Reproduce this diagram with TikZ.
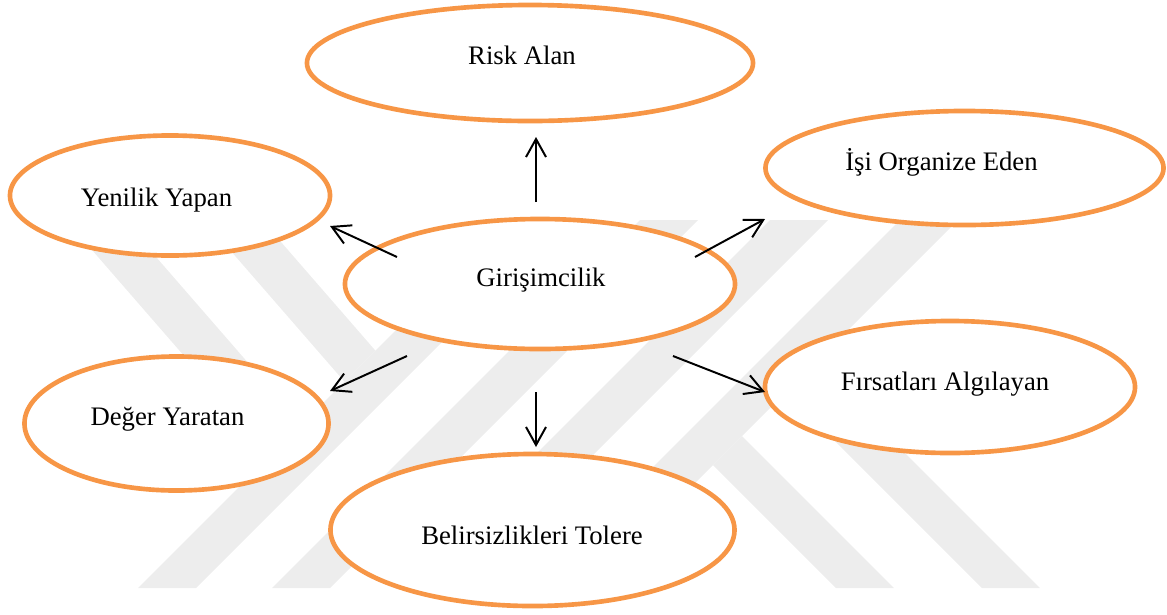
\documentclass[tikz,border=0pt]{standalone}
\usepackage{fontspec}
\setmainfont{Liberation Serif}
\usetikzlibrary{shapes.geometric,arrows.meta}
\definecolor{turuncu}{RGB}{247,150,70}
\definecolor{filigran}{RGB}{237,237,237}
\tikzset{
    kabarcik/.style={ellipse, draw=turuncu, line width=3.3pt, fill=white, inner sep=0pt},
    yazi/.style={anchor=base, inner sep=0pt, font=\fontsize{19}{22}\selectfont},
    ok/.style={line width=1.4pt, -{Straight Barb[length=0.45cm, width=0.5cm]}},
    bant/.style={fill=filigran},
  }

\begin{document}
\begin{tikzpicture}[x=0.025cm, y=-0.025cm]
				  \useasboundingbox (0,0) rectangle (1167,614);
				  %filigran Y
				  \fill[bant] (138,588) -- (196,588) -- (564,220) -- (506,220) -- cycle;
				  \fill[bant] (272,588) -- (330,588) -- (698,220) -- (640,220) -- cycle;
				  \fill[bant] (65.9,220) -- (123.9,220) -- (301.6,424.4) -- (270.6,455.4) -- cycle;
				  \fill[bant] (203.9,220) -- (261.9,220) -- (375.4,350.6) -- (344.4,381.6) -- cycle;
				  %filigran K
				  \fill[bant] (402,588) -- (460,588) -- (828,220) -- (770,220) -- cycle;
				  \fill[bant] (532,588) -- (590,588) -- (958,220) -- (900,220) -- cycle;
				  \fill[bant] (742,436) -- (894,588) -- (836,588) -- (713,465) -- cycle;
				  \fill[bant] (815,363) -- (1040,588) -- (982,588) -- (786,392) -- cycle;

				  %Risk Alan
				  \node[kabarcik, minimum width=11.15cm, minimum height=2.9cm] (risk) at (530,63) {};
				  \node[yazi] (risk-t) at (522,64) {Risk Alan};
				  %Yenilik Yapan
				  \node[kabarcik, minimum width=8cm, minimum height=3cm] (yenilik) at (170,195.5) {};
				  \node[yazi] (yenilik-t) at (156.5,206) {Yenilik Yapan};
				  %Isi Organize Eden
				  \node[kabarcik, minimum width=9.95cm, minimum height=2.85cm] (isi) at (964.5,168) {};
				  \node[yazi] (isi-t) at (941.5,170) {İşi Organize Eden};
				  %Girisimcilik
				  \node[kabarcik, minimum width=9.75cm, minimum height=3.25cm] (girisim) at (540,284) {};
				  \node[yazi] (girisim-t) at (541,286) {Girişimcilik};
				  %Deger Yaratan
				  \node[kabarcik, minimum width=7.6cm, minimum height=3.35cm] (deger) at (176.5,423.5) {};
				  \node[yazi] (deger-t) at (167.5,425) {Değer Yaratan};
				  %Firsatlari Algilayan
				  \node[kabarcik, minimum width=9.25cm, minimum height=3.3cm] (firsat) at (950,387) {};
				  \node[yazi] (firsat-t) at (945,390) {Fırsatları Algılayan};
				  %Belirsizlikleri Tolere
				  \node[kabarcik, minimum width=10.1cm, minimum height=3.8cm] (belirsiz) at (532.5,530) {};
				  \node[yazi] (belirsiz-t) at (532,544) {Belirsizlikleri Tolere};

				  %oklar
				  \coordinate (g-1) at (536,202);
				  \coordinate (g-2) at (397,257);
				  \coordinate (g-3) at (695,257);
				  \coordinate (g-4) at (407,356);
				  \coordinate (g-5) at (673,356);
				  \coordinate (g-6) at (536,392);
				  \coordinate (risk-u) at (536,137);
				  \coordinate (yenilik-u) at (330,226);
				  \coordinate (isi-u) at (765,219);
				  \coordinate (deger-u) at (330,391);
				  \coordinate (firsat-u) at (765,392);
				  \coordinate (belirsiz-u) at (536,447);
				  \draw[ok] (g-1) -- (risk-u);
				  \draw[ok] (g-2) -- (yenilik-u);
				  \draw[ok] (g-3) -- (isi-u);
				  \draw[ok] (g-4) -- (deger-u);
				  \draw[ok] (g-5) -- (firsat-u);
				  \draw[ok] (g-6) -- (belirsiz-u);

				  \end{tikzpicture}
\end{document}
